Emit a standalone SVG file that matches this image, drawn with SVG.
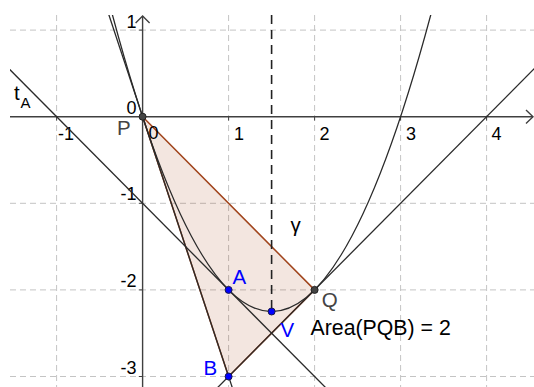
<svg xmlns="http://www.w3.org/2000/svg" width="534" height="387" viewBox="0 0 534 387">
<style>
.grid{stroke:#c4c4c4;stroke-width:1;stroke-dasharray:6 4;fill:none}
.axis{stroke:#404040;stroke-width:1.4;fill:none}
.curve{stroke:#2a2a2a;stroke-width:1.3;fill:none}
.tick{font-family:"Liberation Sans",Arial,sans-serif;font-size:18px;fill:#000}
.lbl{font-family:"Liberation Sans",Arial,sans-serif;font-size:20.5px}
.blue{fill:#0000ff}
.gray{fill:#444444}
.bpt{fill:#0000ff;stroke:#1a1a4a;stroke-width:1}
.gpt{fill:#444444;stroke:#222;stroke-width:1}
</style>
<defs>
<clipPath id="view"><rect x="10" y="15" width="524" height="372"/></clipPath>
</defs>
<rect width="534" height="387" fill="#ffffff"/>
<g id="grid">
<line class="grid" x1="10" y1="30.1" x2="534" y2="30.1"/>
<line class="grid" x1="10" y1="203.3" x2="534" y2="203.3"/>
<line class="grid" x1="10" y1="289.9" x2="534" y2="289.9"/>
<line class="grid" x1="10" y1="376.5" x2="534" y2="376.5"/>
<line class="grid" x1="56.6" y1="15" x2="56.6" y2="387"/>
<line class="grid" x1="228.6" y1="15" x2="228.6" y2="387"/>
<line class="grid" x1="314.6" y1="15" x2="314.6" y2="387"/>
<line class="grid" x1="400.6" y1="15" x2="400.6" y2="387"/>
<line class="grid" x1="486.6" y1="15" x2="486.6" y2="387"/>
</g>
<g id="triangle-PQB">
<polygon points="142.6,116.7 314.6,289.9 228.6,376.5" fill="#993300" fill-opacity="0.12" stroke="#a0441c" stroke-width="1.5" stroke-linejoin="round"/>
</g>
<g id="axes">
<line class="axis" x1="10" y1="116.7" x2="533" y2="116.7"/>
<polyline class="axis" points="526,110 533,116.7 526,123.4"/>
<line class="axis" x1="142.6" y1="387" x2="142.6" y2="16"/>
<polyline class="axis" points="135.6,23 142.6,16 149.6,23"/>
<g stroke="#404040" stroke-width="1">
<line x1="56.6" y1="116.7" x2="56.6" y2="120.5"/>
<line x1="228.6" y1="116.7" x2="228.6" y2="120.5"/>
<line x1="314.6" y1="116.7" x2="314.6" y2="120.5"/>
<line x1="400.6" y1="116.7" x2="400.6" y2="120.5"/>
<line x1="486.6" y1="116.7" x2="486.6" y2="120.5"/>
<line x1="142.6" y1="30.1" x2="138.8" y2="30.1"/>
<line x1="142.6" y1="203.3" x2="138.8" y2="203.3"/>
<line x1="142.6" y1="289.9" x2="138.8" y2="289.9"/>
<line x1="142.6" y1="376.5" x2="138.8" y2="376.5"/>
</g>
<text class="tick" x="58" y="140">-1</text>
<text class="tick" x="148.5" y="139">0</text>
<text class="tick" x="234" y="140">1</text>
<text class="tick" x="319.5" y="140">2</text>
<text class="tick" x="406" y="140">3</text>
<text class="tick" x="491.5" y="140">4</text>
<text class="tick" x="136.5" y="28" text-anchor="end">1</text>
<text class="tick" x="136.5" y="114" text-anchor="end">0</text>
<text class="tick" x="136.5" y="200.3" text-anchor="end">-1</text>
<text class="tick" x="136.5" y="286.9" text-anchor="end">-2</text>
<text class="tick" x="136.5" y="373.5" text-anchor="end">-3</text>
</g>
<g id="connectors" clip-path="url(#view)">
<path id="parabola" class="curve" d="M108.2,-1.1 Q271.6,624.2 435,-1.1"/>
<line id="tangent-A" class="curve" x1="5" y1="64.74" x2="400.6" y2="463.1"/>
<line id="tangent-P" class="curve" x1="99.6" y1="-13.2" x2="254.4" y2="454.4"/>
<line id="tangent-Q" class="curve" x1="185.6" y1="419.8" x2="538.2" y2="64.7"/>
<line id="gamma" x1="271.6" y1="15" x2="271.6" y2="311.5" stroke="#222" stroke-width="1.6" stroke-dasharray="9 6"/>
</g>
<g id="label-tA">
<text class="lbl" x="14" y="100" fill="#000">t</text>
<text x="20.5" y="108" font-family="Liberation Sans, Arial, sans-serif" font-size="15" fill="#000">A</text>
</g>
<g id="label-gamma"><text class="lbl" x="290.5" y="232" fill="#000">γ</text></g>
<g id="point-P">
<circle class="gpt" cx="142.6" cy="116.7" r="3.5"/>
<text class="lbl gray" x="117" y="135">P</text>
</g>
<g id="point-Q">
<circle class="gpt" cx="314.6" cy="289.9" r="3.5"/>
<text class="lbl gray" x="321.7" y="306.5">Q</text>
</g>
<g id="point-A">
<circle class="bpt" cx="228.6" cy="289.9" r="3.5"/>
<text class="lbl blue" x="232.5" y="284">A</text>
</g>
<g id="point-V">
<circle class="bpt" cx="271.6" cy="311.5" r="3.5"/>
<text class="lbl blue" x="280.5" y="336.5">V</text>
</g>
<g id="point-B">
<circle class="bpt" cx="228.6" cy="376.5" r="3.5"/>
<text class="lbl blue" x="203.5" y="375">B</text>
</g>
<g id="area-label">
<text x="310.5" y="335" font-family="Liberation Sans, Arial, sans-serif" font-size="21.3" fill="#000">Area(PQB) = 2</text>
</g>
</svg>
